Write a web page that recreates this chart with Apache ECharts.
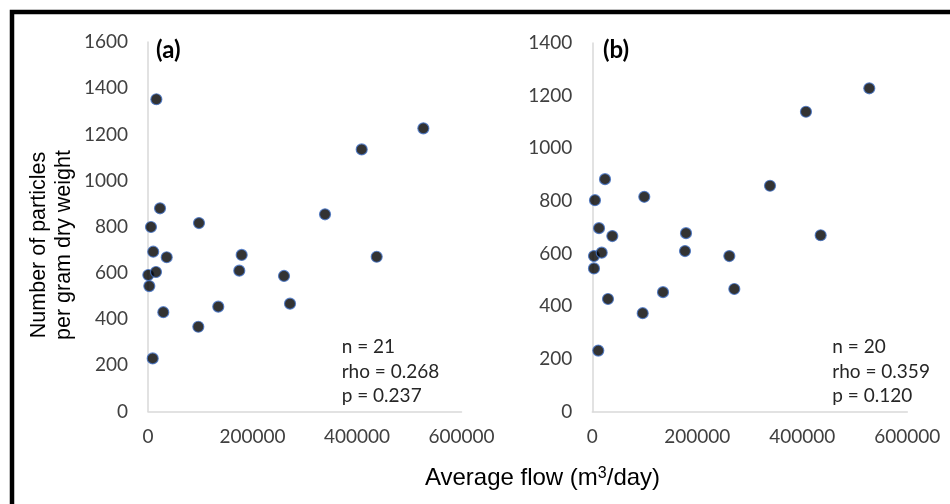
<!DOCTYPE html>
<html>
<head>
<meta charset="utf-8">
<script src="https://cdn.jsdelivr.net/npm/echarts@6/dist/echarts.min.js"></script>
<style>
html,body{margin:0;padding:0;background:#fff;}
#chart{width:950px;height:504px;}
</style>
</head>
<body>
<div id="chart"></div>
<script>
// Panel (a): all sites
var flowA = [16000, 527000, 409000, 23000, 5700, 97600, 338800, 10000, 35800, 179300, 437700, 600, 15300, 2500, 174700, 260300, 271800, 134500, 29300, 96300, 9000];
var countA = [1352, 1226, 1135, 880, 799, 816, 854, 692, 668, 678, 670, 591, 604, 543, 610, 587, 467, 454, 430, 367, 230];
// Panel (b): outlier removed
var flowB = [527600, 407000, 24200, 5100, 99000, 338500, 12800, 38100, 178500, 435000, 3200, 17900, 3200, 176600, 261000, 270500, 134700, 29900, 96000, 11400];
var countB = [1228, 1139, 883, 803, 816, 858, 697, 667, 678, 670, 591, 604, 544, 610, 591, 466, 454, 428, 374, 232];

var statsA = ['n = 21', 'rho = 0.268', 'p = 0.237'];
var statsB = ['n = 20', 'rho = 0.359', 'p = 0.120'];
var panelLabels = ['(a)', '(b)'];
var xTitle = 'Average flow (m';
var yTitle = ['Number of particles', 'per gram dry weight'];

function pairs(xs, ys){ return xs.map(function(x,i){ return [x, ys[i]]; }); }

var tickFont = {color:'#404040', fontFamily:'Lato', fontSize:19, formatter:function(v){ return String(v); }};
function xAx(gi){
  return {gridIndex:gi, type:'value', min:0, max:600000, interval:200000,
    axisLine:{show:true, lineStyle:{color:'#D9D9D9', width:1.5}},
    axisTick:{show:false}, splitLine:{show:false},
    axisLabel:Object.assign({margin:16}, tickFont)};
}
function yAx(gi, max){
  return {gridIndex:gi, type:'value', min:0, max:max, interval:200,
    axisLine:{show:true, lineStyle:{color:'#D9D9D9', width:1.5}},
    axisTick:{show:false}, splitLine:{show:false},
    axisLabel:Object.assign({margin:20}, tickFont)};
}
var marker = {color:'#000', borderColor:'#4472C4', borderWidth:1.2};

var chart = echarts.init(document.getElementById('chart'), null, {renderer:'canvas'});
var statStyle = {fill:'#262626', font:'19px Lato', lineHeight:24.5};
chart.setOption({
  animation:false,
  backgroundColor:'#fff',
  grid:[
    {left:148, top:42, width:313.5, height:369.5},
    {left:592.3, top:43, width:315, height:368.7}
  ],
  xAxis:[xAx(0), xAx(1)],
  yAxis:[yAx(0,1600), yAx(1,1400)],
  series:[
    {type:'scatter', xAxisIndex:0, yAxisIndex:0, data:pairs(flowA,countA), symbolSize:11, itemStyle:marker},
    {type:'scatter', xAxisIndex:1, yAxisIndex:1, data:pairs(flowB,countB), symbolSize:11, itemStyle:marker}
  ],
  graphic:[
    {type:'rect', shape:{x:12, y:12, width:1000, height:600}, style:{fill:'none', stroke:'#000', lineWidth:4.5}, z:100},
    {type:'text', left:156, top:38, style:{text:panelLabels[0], font:'bold 24px Lato', fill:'#000'}},
    {type:'text', left:603, top:38, style:{text:panelLabels[1], font:'bold 24px Lato', fill:'#000'}},
    {type:'text', x:341.7, y:335, style:Object.assign({text:statsA.join('\n')}, statStyle)},
    {type:'text', x:832.3, y:335, style:Object.assign({text:statsB.join('\n')}, statStyle)},
    {type:'text', x:542.5, y:478, style:{
      text:'{t|'+xTitle+'}{s|3}{t|/day)}',
      align:'center', verticalAlign:'middle',
      rich:{t:{font:'24px "Liberation Sans"', fill:'#000'}, s:{font:'16px "Liberation Sans"', fill:'#000', verticalAlign:'top', padding:[0,0,9,0]}}
    }},
    {type:'text', x:39, y:245, rotation:Math.PI/2, style:{text:yTitle[0], font:'21.5px "Liberation Sans"', fill:'#000', align:'center', verticalAlign:'middle'}},
    {type:'text', x:64, y:245, rotation:Math.PI/2, style:{text:yTitle[1], font:'21.5px "Liberation Sans"', fill:'#000', align:'center', verticalAlign:'middle'}}
  ]
});
</script>
</body>
</html>
